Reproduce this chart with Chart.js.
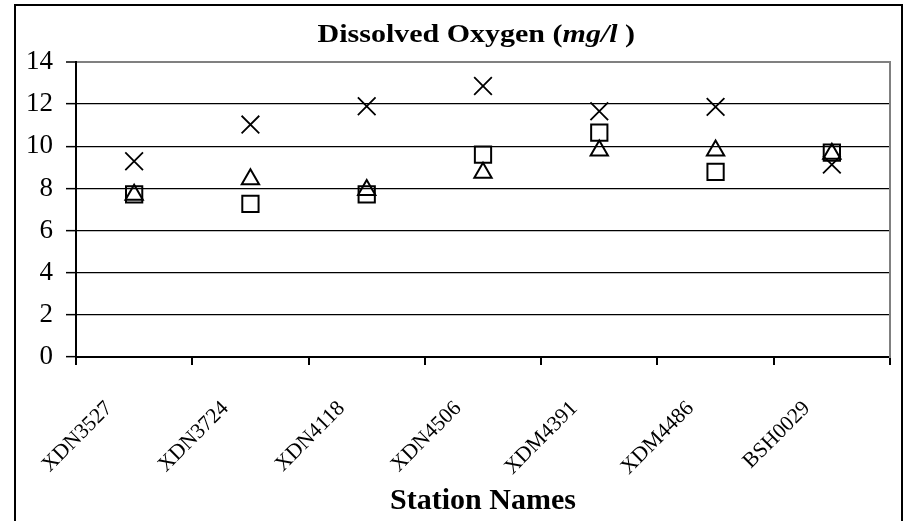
<!DOCTYPE html>
<html>
<head>
<meta charset="utf-8">
<script src="https://cdn.jsdelivr.net/npm/chart.js"></script>
<style>
  html, body { margin: 0; padding: 0; background: #fff; }
  #wrap { position: relative; width: 909px; height: 521px; overflow: hidden; }
  #frame { position: absolute; left: 14px; top: 4px; width: 885px; height: 600px; border: 2px solid #000; }
  #title { position: absolute; left: 0; top: 21px; width: 952px; text-align: center;
           font: bold 25px "Liberation Serif", serif; line-height: 25px; color: #000; white-space: nowrap; }
  #title span { display: inline-block; transform: scaleX(1.2); transform-origin: center; }
  #doChart { position: absolute; left: 0; top: 0; }
</style>
</head>
<body>
<div id="wrap">
  <div id="frame"></div>
  <canvas id="doChart" width="909" height="521"></canvas>
  <div id="title"><span>Dissolved Oxygen (<i>mg/l</i> )</span></div>
</div>
<script>
// stations and dissolved oxygen readings (mg/l)
const stations = ['XDN3527', 'XDN3724', 'XDN4118', 'XDN4506', 'XDM4391', 'XDM4486', 'BSH0029'];
const doCross = [9.29, 11.03, 11.9, 12.86, 11.66, 11.87, 9.13];
const doSquare = [7.72, 7.27, 7.72, 9.6, 10.65, 8.79, 9.7];
const doTriangle = [7.7, 8.43, 7.92, 8.74, 9.8, 9.8, 9.65];
const yTicks = [0, 2, 4, 6, 8, 10, 12, 14];

const serif = 'Liberation Serif';

function markerSet(label, values, style, radius, width) {
    return {
        label: label,
        data: values,
        showLine: false,
        pointStyle: style,
        pointRadius: radius,
        pointHoverRadius: radius,
        pointBorderWidth: width,
        borderColor: '#000',
        backgroundColor: 'rgba(0,0,0,0)'
    };
}

var ctx = document.getElementById('doChart');
new Chart(ctx, {
    type: 'line',
    data: {
        labels: stations,
        datasets: [
            markerSet('Series 1', doCross, 'crossRot', 12.5, 1.8),
            markerSet('Series 2', doSquare, 'rect', 11.5, 2),
            markerSet('Series 3', doTriangle, 'triangle', 10, 2)
        ]
    },
    options: {
        responsive: false,
        animation: false,
        layout: { padding: { left: 15, right: 19, top: 62, bottom: 0 } },
        plugins: { legend: { display: false }, tooltip: { enabled: false } },
        scales: {
            x: {
                type: 'category',
                offset: true,
                grid: { offset: true, drawOnChartArea: false, drawTicks: true, tickLength: 8, color: '#000', lineWidth: 2 },
                border: { color: '#000', width: 2 },
                ticks: {
                    autoSkip: false, minRotation: 45, maxRotation: 45,
                    labelOffset: -25, padding: 31, color: '#000',
                    font: { family: serif, size: 21.5 }
                },
                title: {
                    display: true, text: 'Station Names', color: '#000',
                    font: { family: serif, size: 30, weight: 'bold' },
                    padding: { top: 0, bottom: 2 }
                },
                afterFit: function(scale) { scale.height = 164; }
            },
            y: {
                min: yTicks[0],
                max: yTicks[yTicks.length - 1],
                ticks: { stepSize: 2, padding: 13, color: '#000', font: { family: serif, size: 27 } },
                grid: {
                    color: c => c.tick.value === 14 ? '#808080' : '#000',
                    lineWidth: c => c.tick.value === 14 ? 2 : 1.3,
                    tickColor: '#000',
                    tickWidth: 1.5,
                    tickLength: 10
                },
                border: { color: '#000', width: 2 },
                afterFit: function(scale) { scale.width = 61; }
            },
            y2: {
                type: 'linear',
                position: 'right',
                min: 0,
                max: 14,
                ticks: { display: false },
                grid: { drawOnChartArea: false, drawTicks: false },
                border: { color: '#808080', width: 2 },
                afterFit: function(scale) { scale.width = 0; }
            }
        }
    }
});
</script>
</body>
</html>
